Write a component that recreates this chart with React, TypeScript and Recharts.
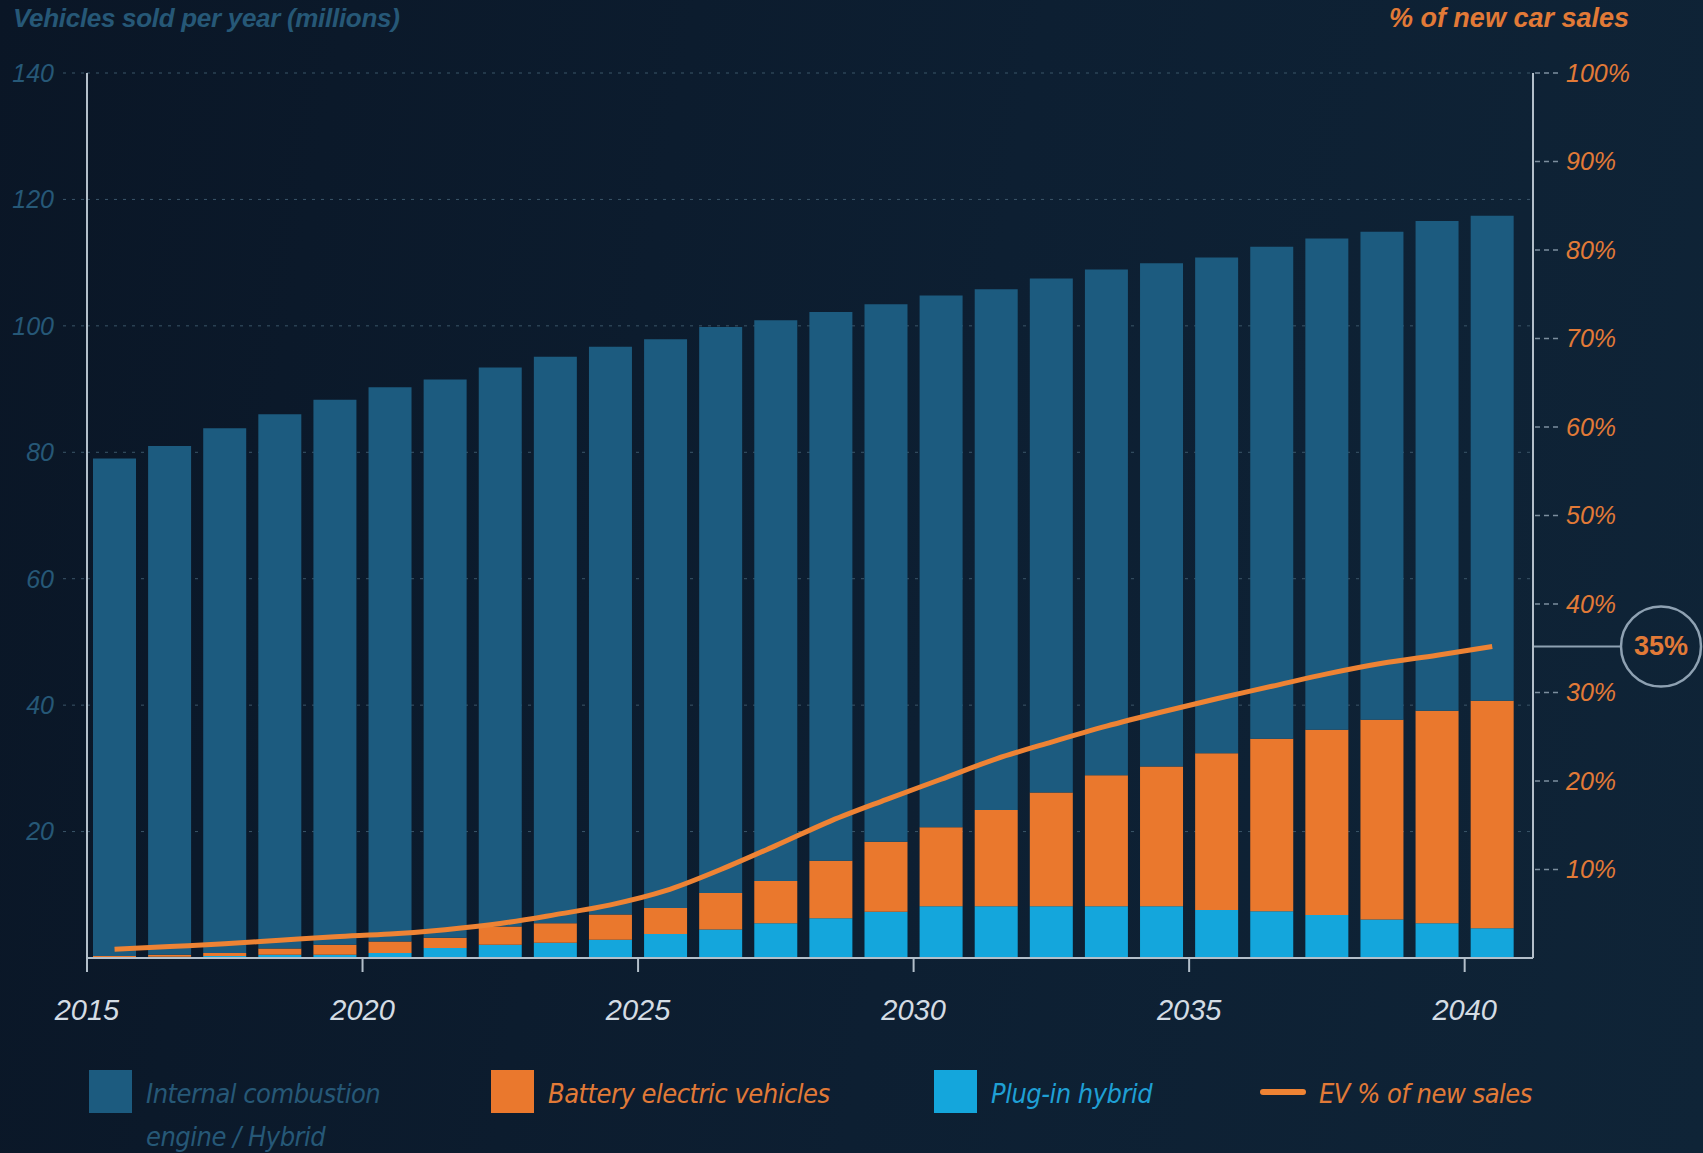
import {
  Bar,
  CartesianGrid,
  ComposedChart,
  Line,
  ReferenceLine,
  XAxis,
  YAxis,
} from "recharts";

const years = [
  2015, 2016, 2017, 2018, 2019, 2020, 2021, 2022, 2023, 2024, 2025, 2026, 2027,
  2028, 2029, 2030, 2031, 2032, 2033, 2034, 2035, 2036, 2037, 2038, 2039, 2040,
];

// millions of vehicles sold per year
const iceSales = [
  78.7, 80.5, 83.0, 84.5, 86.2, 87.7, 88.3, 88.4, 89.6, 89.8, 90.0, 89.5, 88.7,
  86.8, 85.0, 84.1, 82.4, 81.3, 80.0, 79.6, 78.4, 77.8, 77.7, 77.2, 77.5, 76.7,
];
const bevSales = [
  0.2, 0.3, 0.5, 1.0, 1.6, 1.8, 1.6, 2.9, 3.1, 4.0, 4.1, 5.8, 6.7, 9.1, 11.1,
  12.5, 15.2, 18.0, 20.7, 22.1, 24.8, 27.3, 29.3, 31.6, 33.6, 36.0,
];
const phevSales = [
  0.1, 0.2, 0.3, 0.5, 0.5, 0.8, 1.6, 2.1, 2.4, 2.9, 3.8, 4.5, 5.5, 6.3, 7.3,
  8.2, 8.2, 8.2, 8.2, 8.2, 7.6, 7.4, 6.8, 6.1, 5.5, 4.7,
];

// EV share of new car sales, %
const evShare = [
  1.0, 1.3, 1.6, 2.0, 2.4, 2.7, 3.2, 3.9, 4.9, 6.0, 7.6, 10.0, 12.7, 15.5, 17.9,
  20.2, 22.5, 24.4, 26.2, 27.8, 29.3, 30.7, 32.1, 33.3, 34.2, 35.2,
];

const yearTicks = [2015, 2020, 2025, 2030, 2035, 2040];
const unitTicks = [20, 40, 60, 80, 100, 120, 140];
const shareTicks = [10, 20, 30, 40, 50, 60, 70, 80, 90, 100];

const colors = {
  ice: "#1c5b7f",
  bev: "#ea782d",
  phev: "#14a6dc",
  line: "#ee8334",
  axis: "#b3bfca",
  callout: "#8ea1b2",
  dimBlue: "#265877",
  orange: "#e27a37",
  yearText: "#d4dce4",
  grid: "#3b5669",
};

const font = '"Liberation Sans", Arial, sans-serif';
const narrowFont = '"Liberation Sans Narrow", "DejaVu Sans Condensed", sans-serif';

const data = years.map((year, i) => ({
  year,
  mid: year + 0.5,
  ice: iceSales[i],
  bev: bevSales[i],
  phev: phevSales[i],
  share: evShare[i],
}));

const lastShare = evShare[evShare.length - 1];

const legendItems = [
  { name: "Internal combustion engine / Hybrid", color: colors.ice, text: colors.dimBlue, kind: "box", left: 89, width: 265 },
  { name: "Battery electric vehicles", color: colors.bev, text: colors.orange, kind: "box", left: 491, width: 330 },
  { name: "Plug-in hybrid", color: colors.phev, text: "#1f9fd4", kind: "box", left: 934, width: 240 },
  { name: "EV % of new sales", color: colors.line, text: colors.orange, kind: "line", left: 1260, width: 300 },
];

function ShareCallout(props: any) {
  const x = Math.max(props.x1, props.x2);
  const y = props.y1;
  const lineEnd = x + 88;
  const cx = lineEnd + 40;
  return (
    <g>
      <line x1={x} y1={y} x2={lineEnd} y2={y} stroke={colors.callout} strokeWidth={2} />
      <circle cx={cx} cy={y} r={40} fill="none" stroke={colors.callout} strokeWidth={2.5} />
      <text
        x={cx}
        y={y}
        textAnchor="middle"
        dominantBaseline="central"
        fill={colors.orange}
        fontSize={27}
        fontWeight="bold"
        fontFamily={font}
      >
        {`${Math.round(lastShare)}%`}
      </text>
    </g>
  );
}

export default function App() {
  return (
    <div
      style={{
        position: "fixed",
        left: 0,
        top: 0,
        width: 1703,
        height: 1153,
        overflow: "hidden",
        background: "linear-gradient(100deg, #0a1626 0%, #0d1f32 55%, #0f2437 100%)",
        fontFamily: font,
      }}
    >
      <div
        style={{
          position: "absolute",
          left: 13,
          top: 3,
          fontSize: 26,
          lineHeight: "30px",
          fontWeight: "bold",
          fontStyle: "italic",
          color: colors.dimBlue,
          letterSpacing: -0.3,
        }}
      >
        Vehicles sold per year (millions)
      </div>
      <div
        style={{
          position: "absolute",
          right: 74,
          top: 3,
          fontSize: 27,
          lineHeight: "30px",
          fontWeight: "bold",
          fontStyle: "italic",
          color: colors.orange,
        }}
      >
        % of new car sales
      </div>

      <ComposedChart
        width={1703}
        height={1153}
        data={data}
        margin={{ top: 73, right: 50, bottom: 135, left: 0 }}
      >
        <CartesianGrid
          yAxisId="units"
          vertical={false}
          stroke={colors.grid}
          strokeDasharray="3 6"
        />
        <XAxis
          type="number"
          dataKey="mid"
          domain={[2015, 2041.24]}
          ticks={yearTicks}
          allowDataOverflow
          height={60}
          axisLine={{ stroke: colors.axis, strokeWidth: 2 }}
          tickLine={{ stroke: colors.axis, strokeWidth: 2 }}
          tickSize={14}
          tickMargin={27}
          tick={{ fill: colors.yearText, fontSize: 29, fontStyle: "italic", fontFamily: font }}
        />
        <YAxis
          yAxisId="units"
          orientation="left"
          domain={[0, 140]}
          ticks={unitTicks}
          width={87}
          axisLine={{ stroke: colors.axis, strokeWidth: 2 }}
          tickLine={{ stroke: colors.grid, strokeDasharray: "3 6" }}
          tickSize={24}
          tickMargin={9}
          tick={{ fill: colors.dimBlue, fontSize: 25, fontStyle: "italic", fontFamily: font }}
        />
        <YAxis
          yAxisId="share"
          orientation="right"
          domain={[0, 100]}
          ticks={shareTicks}
          width={120}
          axisLine={{ stroke: colors.axis, strokeWidth: 2 }}
          tickLine={{ stroke: "#7c8e9e", strokeDasharray: "5 4", strokeWidth: 1.5 }}
          tickSize={25}
          tickMargin={8}
          tickFormatter={(v) => `${v}%`}
          tick={{ fill: colors.orange, fontSize: 25, fontStyle: "italic", fontFamily: font }}
        />
        <Bar yAxisId="units" dataKey="phev" stackId="sales" fill={colors.phev} barSize={43} isAnimationActive={false} />
        <Bar yAxisId="units" dataKey="bev" stackId="sales" fill={colors.bev} barSize={43} isAnimationActive={false} />
        <Bar yAxisId="units" dataKey="ice" stackId="sales" fill={colors.ice} barSize={43} isAnimationActive={false} />
        <Line
          yAxisId="share"
          type="monotone"
          dataKey="share"
          stroke={colors.line}
          strokeWidth={5}
          dot={false}
          activeDot={false}
          isAnimationActive={false}
        />
        <ReferenceLine
          yAxisId="share"
          y={lastShare}
          ifOverflow="visible"
          shape={ShareCallout}
        />
      </ComposedChart>

      {legendItems.map((item) => (
        <div key={item.name} style={{ position: "absolute", left: item.left, top: 1070 }}>
          {item.kind === "box" ? (
            <div style={{ position: "absolute", left: 0, top: 0, width: 43, height: 43, background: item.color }} />
          ) : (
            <div style={{ position: "absolute", left: 0, top: 19, width: 46, height: 6, borderRadius: 3, background: item.color }} />
          )}
          <div
            style={{
              position: "absolute",
              left: item.kind === "box" ? 57 : 59,
              top: 2,
              width: item.width,
              fontFamily: narrowFont,
              fontStyle: "italic",
              fontSize: 27,
              lineHeight: "43px",
              color: item.text,
              letterSpacing: -0.5,
            }}
          >
            {item.name}
          </div>
        </div>
      ))}
    </div>
  );
}
